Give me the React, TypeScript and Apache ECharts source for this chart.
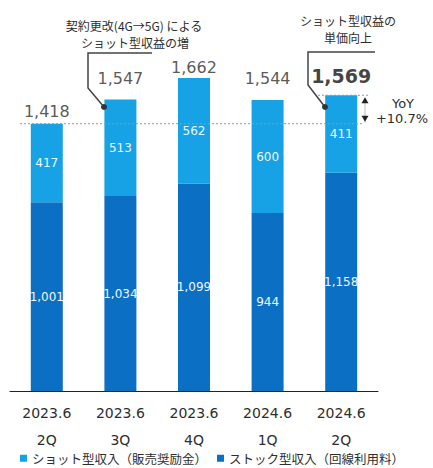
import React, { useEffect, useRef } from "react";
import * as echarts from "echarts";

const periods = ["2023.6", "2023.6", "2023.6", "2024.6", "2024.6"];
const quarters = ["2Q", "3Q", "4Q", "1Q", "2Q"];
const shotRevenue = [417, 513, 562, 600, 411];
const stockRevenue = [1001, 1034, 1099, 944, 1158];
const totals = [1418, 1547, 1662, 1544, 1569];
const totalLabelGap = [4, 13, 2, 13, 10];
const shotName = "ショット型収入（販売奨励金）";
const stockName = "ストック型収入（回線利用料）";
const yoyBase = 1418;
const yoyTarget = 1569;

const NUM_FONT = "DejaVu Sans";
const JP_FONT = "'Noto Sans CJK JP', sans-serif";
const LIGHT = "#16a2e5";
const DARK = "#0b6fc3";
const TEXT = "#2e2e2e";

export default function App() {
  const ref = useRef<HTMLDivElement>(null);
  useEffect(() => {
    if (!ref.current) return;
    const chart = echarts.init(ref.current, null, { renderer: "svg" });
    const insideLabel = {
      show: true,
      position: "inside",
      color: "#eef7fd",
      fontSize: 12,
      fontFamily: NUM_FONT,
      formatter: (p: any) => Number(p.value).toLocaleString("en-US"),
    };
    chart.setOption({
      animation: false,
      grid: { left: 10, right: 55, top: 14, bottom: 77 },
      legend: {
        data: [shotName, stockName],
        left: 15,
        top: 447,
        itemWidth: 7,
        itemHeight: 7,
        itemGap: 10,
        icon: "rect",
        textStyle: { fontFamily: JP_FONT, fontSize: 12.5, color: TEXT },
      },
      xAxis: {
        type: "category",
        data: periods.map((p, i) => p + "\n" + quarters[i]),
        axisLine: { lineStyle: { color: "#222", width: 1 } },
        axisTick: { length: 5, lineStyle: { color: "#222" } },
        axisLabel: {
          fontFamily: NUM_FONT,
          fontSize: 14,
          color: TEXT,
          lineHeight: 27,
          margin: 8,
        },
      },
      yAxis: { type: "value", min: 0, max: 2000, show: false },
      series: [
        {
          name: stockName,
          type: "bar",
          stack: "rev",
          barWidth: 32,
          itemStyle: { color: DARK },
          label: insideLabel,
          data: stockRevenue,
        },
        {
          name: shotName,
          type: "bar",
          stack: "rev",
          barWidth: 32,
          itemStyle: { color: LIGHT },
          label: insideLabel,
          data: shotRevenue,
        },
        {
          name: "total",
          type: "scatter",
          symbolSize: 0,
          itemStyle: { color: "transparent" },
          label: {
            show: true,
            position: "top",
            color: TEXT,
            fontFamily: NUM_FONT,
            fontSize: 16,
            formatter: (p: any) => Number(p.value).toLocaleString("en-US"),
          },
          data: totals.map((v, i) => ({
            value: v,
            label:
              i === totals.length - 1
                ? { distance: totalLabelGap[i], fontSize: 19, fontWeight: "bold", color: "#111" }
                : { distance: totalLabelGap[i] },
          })),
          z: 5,
        },
      ],
    });

    const yBase = chart.convertToPixel({ yAxisIndex: 0 }, yoyBase) as number;
    const yTop = chart.convertToPixel({ yAxisIndex: 0 }, yoyTarget) as number;
    const lineCol = "#444";
    chart.setOption({
      graphic: [
        {
          type: "line",
          shape: { x1: 20, y1: yBase, x2: 363, y2: yBase },
          style: { stroke: "#999", lineWidth: 1, lineDash: [2, 2] },
          z: 10,
        },
        {
          type: "line",
          shape: { x1: 318, y1: yTop, x2: 370, y2: yTop },
          style: { stroke: "#999", lineWidth: 1, lineDash: [2, 2] },
          z: 10,
        },
        {
          type: "line",
          shape: { x1: 365, y1: yTop + 3, x2: 365, y2: yBase - 1 },
          style: { stroke: "#bbb", lineWidth: 1 },
        },
        {
          type: "polygon",
          shape: { points: [[361.5, yTop + 8], [368.5, yTop + 8], [365, yTop + 2]] },
          style: { fill: "#222" },
        },
        {
          type: "polygon",
          shape: { points: [[361.5, yBase - 8], [368.5, yBase - 8], [365, yBase - 2]] },
          style: { fill: "#222" },
        },
        {
          type: "text",
          x: 403,
          y: 103,
          style: { text: "YoY", fontFamily: NUM_FONT, fontSize: 13, fill: TEXT, align: "center", verticalAlign: "middle" },
        },
        {
          type: "text",
          x: 402,
          y: 118,
          style: { text: "+10.7%", fontFamily: NUM_FONT, fontSize: 13, fill: TEXT, align: "center", verticalAlign: "middle" },
        },
        {
          type: "text",
          x: 134,
          y: 25,
          style: { text: "契約更改(4G→5G) による", fontFamily: JP_FONT, fontSize: 12, fill: TEXT, align: "center", verticalAlign: "middle" },
        },
        {
          type: "text",
          x: 135,
          y: 42,
          style: { text: "ショット型収益の増", fontFamily: JP_FONT, fontSize: 12, fill: TEXT, align: "center", verticalAlign: "middle" },
        },
        {
          type: "polyline",
          shape: { points: [[152, 53], [88, 53], [88, 88], [104, 107]] },
          style: { stroke: lineCol, lineWidth: 1.5, fill: null },
        },
        { type: "circle", shape: { cx: 104, cy: 107, r: 3 }, style: { fill: "#333" }, z: 20 },
        {
          type: "text",
          x: 348,
          y: 20,
          style: { text: "ショット型収益の", fontFamily: JP_FONT, fontSize: 12, fill: TEXT, align: "center", verticalAlign: "middle" },
        },
        {
          type: "text",
          x: 348,
          y: 37,
          style: { text: "単価向上", fontFamily: JP_FONT, fontSize: 12, fill: TEXT, align: "center", verticalAlign: "middle" },
        },
        {
          type: "polyline",
          shape: { points: [[375, 52], [308, 52], [308, 85], [325, 107]] },
          style: { stroke: lineCol, lineWidth: 1.5, fill: null },
        },
        { type: "circle", shape: { cx: 325, cy: 107, r: 3 }, style: { fill: "#333" }, z: 20 },
      ],
    });
    return () => chart.dispose();
  }, []);
  return <div ref={ref} style={{ width: 433, height: 468, position: "absolute", left: 0, top: 0 }} />;
}
